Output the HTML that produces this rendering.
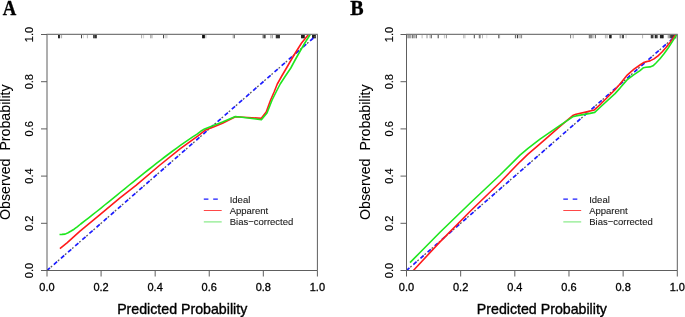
<!DOCTYPE html>
<html><head><meta charset="utf-8"><style>
html,body{margin:0;padding:0;background:#fff;}
svg{display:block;will-change:transform;}
.tl{font-family:"Liberation Sans",sans-serif;font-size:11px;fill:#000;stroke:#000;stroke-width:0.3px;}
.at{font-family:"Liberation Sans",sans-serif;font-size:14.2px;fill:#000;stroke:#000;stroke-width:0.35px;white-space:pre;}
.lg{font-family:"Liberation Sans",sans-serif;font-size:9.5px;fill:#1a1a1a;stroke:#1a1a1a;stroke-width:0.1px;}
.tlr{stroke-width:0.18px;}
.atr{stroke-width:0.08px;}
.pl{font-family:"Liberation Serif",serif;font-size:21px;font-weight:bold;fill:#000;stroke:#000;stroke-width:0.35px;}
</style></head><body>
<svg width="685" height="317" viewBox="0 0 685 317">
<rect width="685" height="317" fill="#fff"/>
<clipPath id="clipA"><rect x="47.0" y="34.5" width="270.4" height="236.0"/></clipPath>
<line x1="58.6" y1="34.5" x2="58.6" y2="38.3" stroke="#000" stroke-width="0.95" stroke-opacity="1"/>
<line x1="59.6" y1="34.5" x2="59.6" y2="38.3" stroke="#000" stroke-width="0.95" stroke-opacity="0.9"/>
<line x1="61.6" y1="34.5" x2="61.6" y2="38.3" stroke="#000" stroke-width="0.95" stroke-opacity="0.35"/>
<line x1="81.5" y1="34.5" x2="81.5" y2="38.3" stroke="#000" stroke-width="0.95" stroke-opacity="0.75"/>
<line x1="83.4" y1="34.5" x2="83.4" y2="38.3" stroke="#000" stroke-width="0.95" stroke-opacity="0.15"/>
<line x1="87.4" y1="34.5" x2="87.4" y2="38.3" stroke="#000" stroke-width="0.95" stroke-opacity="0.3"/>
<line x1="93.7" y1="34.5" x2="93.7" y2="38.3" stroke="#000" stroke-width="0.95" stroke-opacity="0.9"/>
<line x1="94.7" y1="34.5" x2="94.7" y2="38.3" stroke="#000" stroke-width="0.95" stroke-opacity="0.8"/>
<line x1="95.6" y1="34.5" x2="95.6" y2="38.3" stroke="#000" stroke-width="0.95" stroke-opacity="0.9"/>
<line x1="96.5" y1="34.5" x2="96.5" y2="38.3" stroke="#000" stroke-width="0.95" stroke-opacity="0.7"/>
<line x1="141.6" y1="34.5" x2="141.6" y2="38.3" stroke="#000" stroke-width="0.95" stroke-opacity="0.35"/>
<line x1="143.6" y1="34.5" x2="143.6" y2="38.3" stroke="#000" stroke-width="0.95" stroke-opacity="0.2"/>
<line x1="150.8" y1="34.5" x2="150.8" y2="38.3" stroke="#000" stroke-width="0.95" stroke-opacity="0.45"/>
<line x1="152.1" y1="34.5" x2="152.1" y2="38.3" stroke="#000" stroke-width="0.95" stroke-opacity="0.3"/>
<line x1="163.6" y1="34.5" x2="163.6" y2="38.3" stroke="#000" stroke-width="0.95" stroke-opacity="0.85"/>
<line x1="165.8" y1="34.5" x2="165.8" y2="38.3" stroke="#000" stroke-width="0.95" stroke-opacity="0.25"/>
<line x1="167.0" y1="34.5" x2="167.0" y2="38.3" stroke="#000" stroke-width="0.95" stroke-opacity="0.2"/>
<line x1="202.6" y1="34.5" x2="202.6" y2="38.3" stroke="#000" stroke-width="0.95" stroke-opacity="1"/>
<line x1="203.5" y1="34.5" x2="203.5" y2="38.3" stroke="#000" stroke-width="0.95" stroke-opacity="1"/>
<line x1="204.4" y1="34.5" x2="204.4" y2="38.3" stroke="#000" stroke-width="0.95" stroke-opacity="1"/>
<line x1="205.9" y1="34.5" x2="205.9" y2="38.3" stroke="#000" stroke-width="0.95" stroke-opacity="0.3"/>
<line x1="232.9" y1="34.5" x2="232.9" y2="38.3" stroke="#000" stroke-width="0.95" stroke-opacity="0.2"/>
<line x1="234.2" y1="34.5" x2="234.2" y2="38.3" stroke="#000" stroke-width="0.95" stroke-opacity="0.8"/>
<line x1="262.8" y1="34.5" x2="262.8" y2="38.3" stroke="#000" stroke-width="0.95" stroke-opacity="0.4"/>
<line x1="264.0" y1="34.5" x2="264.0" y2="38.3" stroke="#000" stroke-width="0.95" stroke-opacity="1"/>
<line x1="265.0" y1="34.5" x2="265.0" y2="38.3" stroke="#000" stroke-width="0.95" stroke-opacity="1"/>
<line x1="270.9" y1="34.5" x2="270.9" y2="38.3" stroke="#000" stroke-width="0.95" stroke-opacity="0.4"/>
<line x1="272.4" y1="34.5" x2="272.4" y2="38.3" stroke="#000" stroke-width="0.95" stroke-opacity="0.4"/>
<line x1="276.3" y1="34.5" x2="276.3" y2="38.3" stroke="#000" stroke-width="0.95" stroke-opacity="1"/>
<line x1="277.3" y1="34.5" x2="277.3" y2="38.3" stroke="#000" stroke-width="0.95" stroke-opacity="1"/>
<line x1="278.3" y1="34.5" x2="278.3" y2="38.3" stroke="#000" stroke-width="0.95" stroke-opacity="1"/>
<line x1="279.3" y1="34.5" x2="279.3" y2="38.3" stroke="#000" stroke-width="0.95" stroke-opacity="1"/>
<line x1="301.6" y1="34.5" x2="301.6" y2="38.3" stroke="#000" stroke-width="0.95" stroke-opacity="1"/>
<line x1="302.6" y1="34.5" x2="302.6" y2="38.3" stroke="#000" stroke-width="0.95" stroke-opacity="1"/>
<line x1="303.6" y1="34.5" x2="303.6" y2="38.3" stroke="#000" stroke-width="0.95" stroke-opacity="1"/>
<line x1="304.3" y1="34.5" x2="304.3" y2="38.3" stroke="#000" stroke-width="0.95" stroke-opacity="0.9"/>
<line x1="312.6" y1="34.5" x2="312.6" y2="38.3" stroke="#000" stroke-width="0.95" stroke-opacity="1"/>
<line x1="313.6" y1="34.5" x2="313.6" y2="38.3" stroke="#000" stroke-width="0.95" stroke-opacity="1"/>
<line x1="314.6" y1="34.5" x2="314.6" y2="38.3" stroke="#000" stroke-width="0.95" stroke-opacity="1"/>
<line x1="315.3" y1="34.5" x2="315.3" y2="38.3" stroke="#000" stroke-width="0.95" stroke-opacity="1"/>
<g clip-path="url(#clipA)" fill="none" stroke-linejoin="round">
<line x1="47.0" y1="270.5" x2="317.4" y2="34.5" stroke="#5a5a5a" stroke-width="1.3" stroke-dasharray="1.8 7.65" stroke-dashoffset="4.45"/>
<line x1="47.0" y1="270.5" x2="317.4" y2="34.5" stroke="#1c1cff" stroke-width="1.7" stroke-dasharray="4.3 5.15" stroke-dashoffset="0.39"/>
<polyline points="59.9,248.7 67.0,242.8 80.0,231.1 100.0,214.7 120.0,197.9 136.0,185.3 160.0,165.0 180.0,148.9 198.0,135.8 205.0,130.3 214.0,126.8 222.5,123.2 235.4,116.8 261.3,118.3 266.2,112.1 270.6,100.0 274.1,92.0 277.3,84.0 281.8,76.0 286.5,68.0 291.1,60.0 295.9,52.0 301.6,43.0 308.5,34.5 310.8,31.0" stroke="#ff1a1a" stroke-width="1.6"/>
<polyline points="59.5,234.5 62.0,234.4 65.1,234.1 68.1,232.7 71.1,231.0 74.1,229.2 77.2,226.9 80.7,224.0 84.7,220.9 88.7,217.8 92.7,214.7 96.7,211.5 100.7,208.3 104.7,205.0 108.7,201.8 112.7,198.6 116.7,195.3 120.7,192.0 124.7,188.8 128.7,185.5 132.7,182.3 136.7,179.1 140.7,175.8 144.7,172.6 148.7,169.5 152.7,166.3 156.7,163.2 160.7,160.1 164.7,157.0 168.7,154.0 172.7,151.0 176.7,148.1 180.7,145.2 184.7,142.4 188.7,139.6 192.7,136.9 196.7,134.3 200.7,131.3 204.6,128.9 222.5,122.1 235.4,116.6 240.0,117.0 261.4,119.7 267.0,113.0 272.1,100.0 276.1,92.0 280.2,84.0 285.4,76.0 290.8,68.0 295.1,60.0 299.6,52.0 304.8,43.0 310.2,34.5 312.2,31.0" stroke="#1ee61e" stroke-width="1.6"/>
</g>
<path d="M47.0 270.5H317.4M47.0 270.5V34.5M317.4 270.5V34.5" fill="none" stroke="#5e5e5e" stroke-width="1"/>
<path d="M46.5 34.4H317.9" fill="none" stroke="#7a7a7a" stroke-width="1.35"/>
<path d="M47.00 270.5V276.5 M47.0 270.50H41.0 M101.08 270.5V276.5 M47.0 223.30H41.0 M155.16 270.5V276.5 M47.0 176.10H41.0 M209.24 270.5V276.5 M47.0 128.90H41.0 M263.32 270.5V276.5 M47.0 81.70H41.0 M317.40 270.5V276.5 M47.0 34.50H41.0" stroke="#5e5e5e" stroke-width="1" fill="none"/>
<text x="47.00" y="291" class="tl" text-anchor="middle">0.0</text>
<text transform="translate(33.1,270.50) rotate(-90)" class="tl tlr" text-anchor="middle">0.0</text>
<text x="101.08" y="291" class="tl" text-anchor="middle">0.2</text>
<text transform="translate(33.1,223.30) rotate(-90)" class="tl tlr" text-anchor="middle">0.2</text>
<text x="155.16" y="291" class="tl" text-anchor="middle">0.4</text>
<text transform="translate(33.1,176.10) rotate(-90)" class="tl tlr" text-anchor="middle">0.4</text>
<text x="209.24" y="291" class="tl" text-anchor="middle">0.6</text>
<text transform="translate(33.1,128.90) rotate(-90)" class="tl tlr" text-anchor="middle">0.6</text>
<text x="263.32" y="291" class="tl" text-anchor="middle">0.8</text>
<text transform="translate(33.1,81.70) rotate(-90)" class="tl tlr" text-anchor="middle">0.8</text>
<text x="317.40" y="291" class="tl" text-anchor="middle">1.0</text>
<text transform="translate(33.1,34.50) rotate(-90)" class="tl tlr" text-anchor="middle">1.0</text>
<text x="182.20" y="314" class="at" text-anchor="middle">Predicted Probability</text>
<text transform="translate(10.3,152.20) rotate(-90)" class="at atr" text-anchor="middle" xml:space="preserve">Observed  Probability</text>
<text transform="translate(2.78,15.1) scale(0.89,1.0)" class="pl">A</text>
<line x1="203.8" y1="199.1" x2="221.70000000000002" y2="199.1" stroke="#1a1aff" stroke-width="1.2" stroke-dasharray="4.6 4.8"/>
<line x1="203.8" y1="210.5" x2="221.70000000000002" y2="210.5" stroke="#ff4848" stroke-width="1"/>
<line x1="203.8" y1="221.9" x2="221.70000000000002" y2="221.9" stroke="#86ea86" stroke-width="1.2"/>
<text x="229.7" y="202.6" class="lg">Ideal</text>
<text x="229.7" y="214.0" class="lg">Apparent</text>
<text x="229.7" y="225.4" class="lg">Bias−corrected</text>
<clipPath id="clipB"><rect x="406.5" y="34.5" width="270.79999999999995" height="236.0"/></clipPath>
<line x1="407.8" y1="34.5" x2="407.8" y2="38.3" stroke="#000" stroke-width="0.95" stroke-opacity="0.4"/>
<line x1="408.8" y1="34.5" x2="408.8" y2="38.3" stroke="#000" stroke-width="0.95" stroke-opacity="0.45"/>
<line x1="409.8" y1="34.5" x2="409.8" y2="38.3" stroke="#000" stroke-width="0.95" stroke-opacity="0.4"/>
<line x1="410.8" y1="34.5" x2="410.8" y2="38.3" stroke="#000" stroke-width="0.95" stroke-opacity="0.4"/>
<line x1="412.4" y1="34.5" x2="412.4" y2="38.3" stroke="#000" stroke-width="0.95" stroke-opacity="0.55"/>
<line x1="413.2" y1="34.5" x2="413.2" y2="38.3" stroke="#000" stroke-width="0.95" stroke-opacity="0.45"/>
<line x1="414.4" y1="34.5" x2="414.4" y2="38.3" stroke="#000" stroke-width="0.95" stroke-opacity="0.4"/>
<line x1="416.2" y1="34.5" x2="416.2" y2="38.3" stroke="#000" stroke-width="0.95" stroke-opacity="0.85"/>
<line x1="422.1" y1="34.5" x2="422.1" y2="38.3" stroke="#000" stroke-width="0.95" stroke-opacity="0.3"/>
<line x1="427.0" y1="34.5" x2="427.0" y2="38.3" stroke="#000" stroke-width="0.95" stroke-opacity="0.45"/>
<line x1="430.0" y1="34.5" x2="430.0" y2="38.3" stroke="#000" stroke-width="0.95" stroke-opacity="0.3"/>
<line x1="431.3" y1="34.5" x2="431.3" y2="38.3" stroke="#000" stroke-width="0.95" stroke-opacity="0.7"/>
<line x1="438.2" y1="34.5" x2="438.2" y2="38.3" stroke="#000" stroke-width="0.95" stroke-opacity="0.8"/>
<line x1="444.4" y1="34.5" x2="444.4" y2="38.3" stroke="#000" stroke-width="0.95" stroke-opacity="0.25"/>
<line x1="446.4" y1="34.5" x2="446.4" y2="38.3" stroke="#000" stroke-width="0.95" stroke-opacity="0.45"/>
<line x1="463.8" y1="34.5" x2="463.8" y2="38.3" stroke="#000" stroke-width="0.95" stroke-opacity="0.35"/>
<line x1="465.1" y1="34.5" x2="465.1" y2="38.3" stroke="#000" stroke-width="0.95" stroke-opacity="0.2"/>
<line x1="474.3" y1="34.5" x2="474.3" y2="38.3" stroke="#000" stroke-width="0.95" stroke-opacity="0.75"/>
<line x1="479.3" y1="34.5" x2="479.3" y2="38.3" stroke="#000" stroke-width="0.95" stroke-opacity="0.55"/>
<line x1="480.2" y1="34.5" x2="480.2" y2="38.3" stroke="#000" stroke-width="0.95" stroke-opacity="0.5"/>
<line x1="482.5" y1="34.5" x2="482.5" y2="38.3" stroke="#000" stroke-width="0.95" stroke-opacity="0.3"/>
<line x1="486.8" y1="34.5" x2="486.8" y2="38.3" stroke="#000" stroke-width="0.95" stroke-opacity="0.15"/>
<line x1="498.6" y1="34.5" x2="498.6" y2="38.3" stroke="#000" stroke-width="0.95" stroke-opacity="0.6"/>
<line x1="499.6" y1="34.5" x2="499.6" y2="38.3" stroke="#000" stroke-width="0.95" stroke-opacity="0.3"/>
<line x1="515.4" y1="34.5" x2="515.4" y2="38.3" stroke="#000" stroke-width="0.95" stroke-opacity="0.65"/>
<line x1="517.4" y1="34.5" x2="517.4" y2="38.3" stroke="#000" stroke-width="0.95" stroke-opacity="0.9"/>
<line x1="519.0" y1="34.5" x2="519.0" y2="38.3" stroke="#000" stroke-width="0.95" stroke-opacity="0.35"/>
<line x1="520.3" y1="34.5" x2="520.3" y2="38.3" stroke="#000" stroke-width="0.95" stroke-opacity="0.3"/>
<line x1="521.6" y1="34.5" x2="521.6" y2="38.3" stroke="#000" stroke-width="0.95" stroke-opacity="0.5"/>
<line x1="570.6" y1="34.5" x2="570.6" y2="38.3" stroke="#000" stroke-width="0.95" stroke-opacity="0.55"/>
<line x1="573.2" y1="34.5" x2="573.2" y2="38.3" stroke="#000" stroke-width="0.95" stroke-opacity="0.35"/>
<line x1="589.3" y1="34.5" x2="589.3" y2="38.3" stroke="#000" stroke-width="0.95" stroke-opacity="0.6"/>
<line x1="590.3" y1="34.5" x2="590.3" y2="38.3" stroke="#000" stroke-width="0.95" stroke-opacity="0.5"/>
<line x1="591.3" y1="34.5" x2="591.3" y2="38.3" stroke="#000" stroke-width="0.95" stroke-opacity="0.6"/>
<line x1="592.6" y1="34.5" x2="592.6" y2="38.3" stroke="#000" stroke-width="0.95" stroke-opacity="0.3"/>
<line x1="593.9" y1="34.5" x2="593.9" y2="38.3" stroke="#000" stroke-width="0.95" stroke-opacity="0.3"/>
<line x1="595.5" y1="34.5" x2="595.5" y2="38.3" stroke="#000" stroke-width="0.95" stroke-opacity="0.6"/>
<line x1="605.4" y1="34.5" x2="605.4" y2="38.3" stroke="#000" stroke-width="0.95" stroke-opacity="0.3"/>
<line x1="607.0" y1="34.5" x2="607.0" y2="38.3" stroke="#000" stroke-width="0.95" stroke-opacity="0.35"/>
<line x1="609.6" y1="34.5" x2="609.6" y2="38.3" stroke="#000" stroke-width="0.95" stroke-opacity="0.9"/>
<line x1="610.5" y1="34.5" x2="610.5" y2="38.3" stroke="#000" stroke-width="0.95" stroke-opacity="0.9"/>
<line x1="611.4" y1="34.5" x2="611.4" y2="38.3" stroke="#000" stroke-width="0.95" stroke-opacity="0.7"/>
<line x1="620.2" y1="34.5" x2="620.2" y2="38.3" stroke="#000" stroke-width="0.95" stroke-opacity="0.6"/>
<line x1="622.3" y1="34.5" x2="622.3" y2="38.3" stroke="#000" stroke-width="0.95" stroke-opacity="0.85"/>
<line x1="623.4" y1="34.5" x2="623.4" y2="38.3" stroke="#000" stroke-width="0.95" stroke-opacity="0.85"/>
<line x1="626.1" y1="34.5" x2="626.1" y2="38.3" stroke="#000" stroke-width="0.95" stroke-opacity="0.25"/>
<line x1="642.6" y1="34.5" x2="642.6" y2="38.3" stroke="#000" stroke-width="0.95" stroke-opacity="0.3"/>
<line x1="651.3" y1="34.5" x2="651.3" y2="38.3" stroke="#000" stroke-width="0.95" stroke-opacity="1"/>
<line x1="652.4" y1="34.5" x2="652.4" y2="38.3" stroke="#000" stroke-width="0.95" stroke-opacity="0.9"/>
<line x1="653.8" y1="34.5" x2="653.8" y2="38.3" stroke="#000" stroke-width="0.95" stroke-opacity="0.6"/>
<line x1="655.4" y1="34.5" x2="655.4" y2="38.3" stroke="#000" stroke-width="0.95" stroke-opacity="1"/>
<line x1="656.4" y1="34.5" x2="656.4" y2="38.3" stroke="#000" stroke-width="0.95" stroke-opacity="0.9"/>
<line x1="657.6" y1="34.5" x2="657.6" y2="38.3" stroke="#000" stroke-width="0.95" stroke-opacity="0.6"/>
<line x1="660.4" y1="34.5" x2="660.4" y2="38.3" stroke="#000" stroke-width="0.95" stroke-opacity="1"/>
<line x1="661.4" y1="34.5" x2="661.4" y2="38.3" stroke="#000" stroke-width="0.95" stroke-opacity="1"/>
<line x1="662.4" y1="34.5" x2="662.4" y2="38.3" stroke="#000" stroke-width="0.95" stroke-opacity="1"/>
<line x1="663.2" y1="34.5" x2="663.2" y2="38.3" stroke="#000" stroke-width="0.95" stroke-opacity="0.9"/>
<line x1="668.1" y1="34.5" x2="668.1" y2="38.3" stroke="#000" stroke-width="0.95" stroke-opacity="0.3"/>
<line x1="669.2" y1="34.5" x2="669.2" y2="38.3" stroke="#000" stroke-width="0.95" stroke-opacity="0.6"/>
<line x1="670.8" y1="34.5" x2="670.8" y2="38.3" stroke="#000" stroke-width="0.95" stroke-opacity="1"/>
<line x1="671.8" y1="34.5" x2="671.8" y2="38.3" stroke="#000" stroke-width="0.95" stroke-opacity="1"/>
<line x1="672.8" y1="34.5" x2="672.8" y2="38.3" stroke="#000" stroke-width="0.95" stroke-opacity="1"/>
<line x1="673.8" y1="34.5" x2="673.8" y2="38.3" stroke="#000" stroke-width="0.95" stroke-opacity="1"/>
<line x1="674.8" y1="34.5" x2="674.8" y2="38.3" stroke="#000" stroke-width="0.95" stroke-opacity="1"/>
<line x1="675.7" y1="34.5" x2="675.7" y2="38.3" stroke="#000" stroke-width="0.95" stroke-opacity="1"/>
<g clip-path="url(#clipB)" fill="none" stroke-linejoin="round">
<line x1="406.5" y1="270.5" x2="677.3" y2="34.5" stroke="#5a5a5a" stroke-width="1.3" stroke-dasharray="1.8 7.65" stroke-dashoffset="4.45"/>
<line x1="406.5" y1="270.5" x2="677.3" y2="34.5" stroke="#1c1cff" stroke-width="1.7" stroke-dasharray="4.3 5.15" stroke-dashoffset="0.39"/>
<polyline points="412.2,272.0 413.6,270.2 440.0,241.9 470.0,211.5 500.0,182.5 520.0,161.8 528.0,154.2 540.0,143.8 560.0,126.3 572.7,115.6 576.0,114.2 590.0,111.1 594.3,109.9 601.0,103.8 615.0,89.8 620.0,84.0 626.6,75.7 634.0,69.2 640.0,65.0 643.5,62.6 646.0,61.8 650.0,60.9 654.0,58.9 658.0,55.9 662.0,52.0 666.0,47.4 670.0,42.4 674.0,37.0 678.0,31.5" stroke="#ff1a1a" stroke-width="1.6"/>
<polyline points="410.0,262.6 420.0,252.5 440.0,232.3 470.0,203.2 500.0,175.0 520.0,155.1 528.0,148.3 540.0,139.2 560.0,125.3 572.7,116.8 576.0,115.9 590.0,113.4 594.7,112.4 601.0,106.5 615.0,93.6 620.0,88.1 627.0,79.9 634.0,74.7 640.0,70.6 643.5,67.7 646.0,67.3 650.0,66.9 653.0,65.8 656.0,63.0 660.0,58.8 664.0,53.8 668.0,48.2 672.0,42.1 676.0,35.9 679.0,31.1" stroke="#1ee61e" stroke-width="1.6"/>
</g>
<path d="M406.5 270.5H677.3M406.5 270.5V34.5M677.3 270.5V34.5" fill="none" stroke="#5e5e5e" stroke-width="1"/>
<path d="M406.0 34.4H677.8" fill="none" stroke="#7a7a7a" stroke-width="1.35"/>
<path d="M406.50 270.5V276.5 M406.5 270.50H400.5 M460.66 270.5V276.5 M406.5 223.30H400.5 M514.82 270.5V276.5 M406.5 176.10H400.5 M568.98 270.5V276.5 M406.5 128.90H400.5 M623.14 270.5V276.5 M406.5 81.70H400.5 M677.30 270.5V276.5 M406.5 34.50H400.5" stroke="#5e5e5e" stroke-width="1" fill="none"/>
<text x="406.50" y="291" class="tl" text-anchor="middle">0.0</text>
<text transform="translate(392.6,270.50) rotate(-90)" class="tl tlr" text-anchor="middle">0.0</text>
<text x="460.66" y="291" class="tl" text-anchor="middle">0.2</text>
<text transform="translate(392.6,223.30) rotate(-90)" class="tl tlr" text-anchor="middle">0.2</text>
<text x="514.82" y="291" class="tl" text-anchor="middle">0.4</text>
<text transform="translate(392.6,176.10) rotate(-90)" class="tl tlr" text-anchor="middle">0.4</text>
<text x="568.98" y="291" class="tl" text-anchor="middle">0.6</text>
<text transform="translate(392.6,128.90) rotate(-90)" class="tl tlr" text-anchor="middle">0.6</text>
<text x="623.14" y="291" class="tl" text-anchor="middle">0.8</text>
<text transform="translate(392.6,81.70) rotate(-90)" class="tl tlr" text-anchor="middle">0.8</text>
<text x="677.30" y="291" class="tl" text-anchor="middle">1.0</text>
<text transform="translate(392.6,34.50) rotate(-90)" class="tl tlr" text-anchor="middle">1.0</text>
<text x="541.90" y="314" class="at" text-anchor="middle">Predicted Probability</text>
<text transform="translate(369.8,152.20) rotate(-90)" class="at atr" text-anchor="middle" xml:space="preserve">Observed  Probability</text>
<text transform="translate(350.3,15.1) scale(0.955,1.0)" class="pl">B</text>
<line x1="563.3" y1="199.1" x2="581.1999999999999" y2="199.1" stroke="#1a1aff" stroke-width="1.2" stroke-dasharray="4.6 4.8"/>
<line x1="563.3" y1="210.5" x2="581.1999999999999" y2="210.5" stroke="#ff4848" stroke-width="1"/>
<line x1="563.3" y1="221.9" x2="581.1999999999999" y2="221.9" stroke="#86ea86" stroke-width="1.2"/>
<text x="589.2" y="202.6" class="lg">Ideal</text>
<text x="589.2" y="214.0" class="lg">Apparent</text>
<text x="589.2" y="225.4" class="lg">Bias−corrected</text>
</svg>
</body></html>
